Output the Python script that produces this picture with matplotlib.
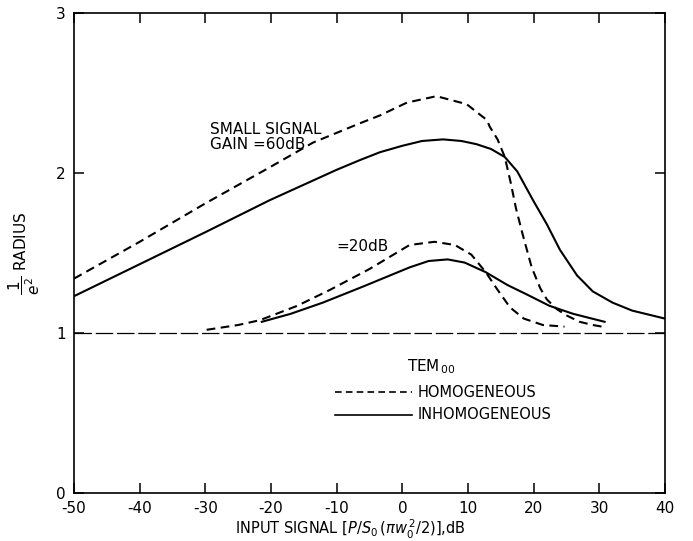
import matplotlib
matplotlib.use("Agg")
import matplotlib.pyplot as plt

plt.rcParams["font.family"] = ["DejaVu Sans"]
plt.rcParams["mathtext.fontset"] = "dejavusans"

# curves (input signal in dB, 1/e^2 radius)
homog_60_x = [-50, -40, -30, -20, -13.6, -6.5, -3.4, 0.7, 5.2, 9.8, 12.9, 13.3, 14.5,
              15.6, 16.5, 17.3, 18.3, 19.7, 21, 22, 23.5, 25, 27, 29, 30.4]
homog_60_y = [1.34, 1.57, 1.81, 2.04, 2.19, 2.31, 2.36, 2.44, 2.48, 2.43, 2.33, 2.29, 2.21,
              2.10, 1.94, 1.78, 1.62, 1.41, 1.28, 1.21, 1.15, 1.11, 1.07, 1.05, 1.04]

inhom_60_x = [-50, -40, -30, -20.2, -10, -6.5, -3.4, 0, 3, 6.2, 9, 11.3, 13.5, 15.6,
              17.5, 19.9, 22, 24, 26.6, 29, 32, 35, 38, 40]
inhom_60_y = [1.23, 1.43, 1.63, 1.83, 2.02, 2.08, 2.13, 2.17, 2.20, 2.21, 2.20, 2.18, 2.15, 2.10,
              2.01, 1.83, 1.68, 1.52, 1.36, 1.26, 1.19, 1.14, 1.11, 1.09]

homog_20_x = [-29.8, -25, -21.7, -16, -11, -5, 1.1, 4.9, 8, 10.5, 12.7, 14.5, 16.4,
              18.5, 21.4, 24.7]
homog_20_y = [1.02, 1.05, 1.08, 1.17, 1.27, 1.40, 1.55, 1.57, 1.55, 1.49, 1.38, 1.27, 1.16,
              1.09, 1.05, 1.04]

inhom_20_x = [-21.4, -17, -12.1, -6, 1.1, 4, 6.9, 9.5, 12.7, 16, 19, 22.4, 26, 30.8]
inhom_20_y = [1.07, 1.12, 1.19, 1.29, 1.41, 1.45, 1.46, 1.44, 1.38, 1.30, 1.24, 1.17, 1.12, 1.07]

x_ticks = [-50, -40, -30, -20, -10, 0, 10, 20, 30, 40]
y_ticks = [0, 1, 2, 3]

dash = (4.2, 2.6)

fig = plt.figure(figsize=(6.93, 5.41), dpi=100)
ax = fig.add_axes([0.1068, 0.0887, 0.8528, 0.8873])

ax.plot(homog_60_x, homog_60_y, color="black", lw=1.5, linestyle=(0, dash))
ax.plot(inhom_60_x, inhom_60_y, color="black", lw=1.5)
ax.plot(homog_20_x, homog_20_y, color="black", lw=1.5, linestyle=(0, dash))
ax.plot(inhom_20_x, inhom_20_y, color="black", lw=1.5)

# baseline at radius 1
ax.plot([-50, 40], [1, 1], color="black", lw=0.9, linestyle=(0, (14, 3)))

ax.text(-29.3, 2.27, "SMALL SIGNAL", fontsize=11, va="center", ha="left")
ax.text(-29.3, 2.18, "GAIN =60dB", fontsize=11, va="center", ha="left")
ax.text(-10.0, 1.54, "=20dB", fontsize=11, va="center", ha="left")

# legend drawn by hand like the original
ax.text(0.7, 0.79, r"TEM$_{\,00}$", fontsize=11, va="center", ha="left")
ax.plot([-10.3, 1.4], [0.63, 0.63], color="black", lw=1.2, linestyle=(0, (4, 2.5)))
ax.text(2.4, 0.63, "HOMOGENEOUS", fontsize=10.5, va="center", ha="left")
ax.plot([-10.3, 1.4], [0.49, 0.49], color="black", lw=1.2)
ax.text(2.4, 0.49, "INHOMOGENEOUS", fontsize=10.5, va="center", ha="left")

ax.set_xlim(-50, 40)
ax.set_ylim(0, 3)
ax.set_xticks(x_ticks)
ax.set_yticks(y_ticks)
ax.set_xticklabels([str(v) for v in x_ticks], fontsize=11)
ax.set_yticklabels([str(v) for v in y_ticks], fontsize=11)
ax.tick_params(direction="in", length=7, width=1.1, top=True, right=True)
ax.tick_params(axis="x", pad=6)
ax.tick_params(axis="y", pad=6)

for s in ax.spines.values():
    s.set_linewidth(1.2)

fig.text(0.505, 0.0, r"INPUT SIGNAL $[P/S_0\,(\pi w_0^{\,2}/2)]$,dB",
         fontsize=10.5, ha="center", va="bottom")
ax.set_ylabel(r"$\dfrac{1}{e^2}$ RADIUS", fontsize=11, labelpad=10)

fig.savefig("out.png", dpi=100)
